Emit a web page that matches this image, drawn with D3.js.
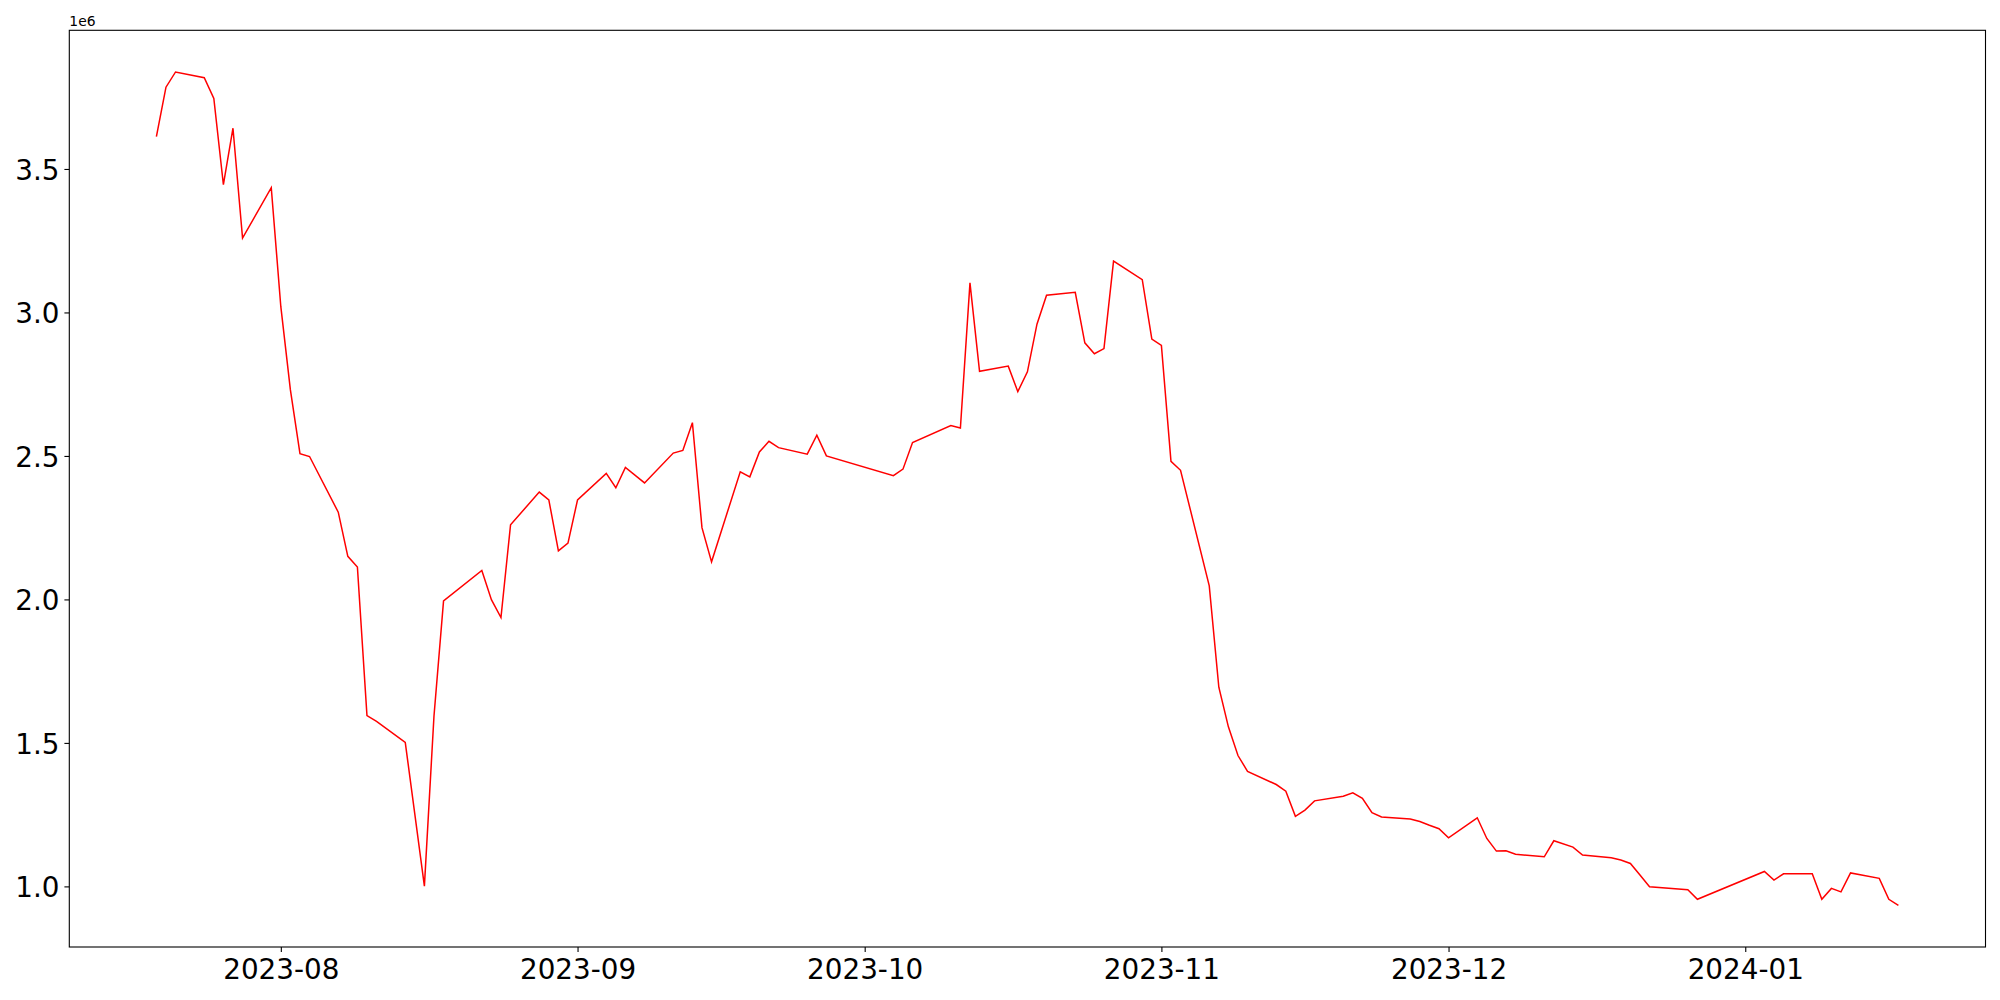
<!DOCTYPE html>
<html>
<head>
<meta charset="utf-8">
<script src="https://cdn.jsdelivr.net/npm/d3@7"></script>
<style>
  html, body { margin: 0; padding: 0; background: #fff; }
  svg { display: block; }
  text { font-family: "DejaVu Sans", sans-serif; fill: #000; }
</style>
</head>
<body>
<svg id="chart" width="2000" height="1000"></svg>
<script>
// ---- data ----
const dates = [
  "2023-07-19","2023-07-20","2023-07-21","2023-07-24","2023-07-25","2023-07-26","2023-07-27","2023-07-28","2023-07-31",
  "2023-08-01","2023-08-02","2023-08-03","2023-08-04","2023-08-07","2023-08-08","2023-08-09","2023-08-10","2023-08-11",
  "2023-08-14","2023-08-16","2023-08-17","2023-08-18","2023-08-22","2023-08-23","2023-08-24","2023-08-25",
  "2023-08-28","2023-08-29","2023-08-30","2023-08-31",
  "2023-09-01","2023-09-04","2023-09-05","2023-09-06","2023-09-08","2023-09-11","2023-09-12","2023-09-13","2023-09-14",
  "2023-09-15","2023-09-18","2023-09-19","2023-09-20","2023-09-21","2023-09-22","2023-09-25","2023-09-26","2023-09-27",
  "2023-10-04","2023-10-05","2023-10-06","2023-10-10","2023-10-11","2023-10-12","2023-10-13","2023-10-16","2023-10-17",
  "2023-10-18","2023-10-19","2023-10-20","2023-10-23","2023-10-24","2023-10-25","2023-10-26","2023-10-27","2023-10-30","2023-10-31",
  "2023-11-01","2023-11-02","2023-11-03","2023-11-06","2023-11-07","2023-11-08","2023-11-09","2023-11-10","2023-11-13",
  "2023-11-14","2023-11-15","2023-11-16","2023-11-17","2023-11-20","2023-11-21","2023-11-22","2023-11-23","2023-11-24",
  "2023-11-27","2023-11-28","2023-11-29","2023-11-30",
  "2023-12-01","2023-12-04","2023-12-05","2023-12-06","2023-12-07","2023-12-08","2023-12-11","2023-12-12","2023-12-14",
  "2023-12-15","2023-12-18","2023-12-19","2023-12-20","2023-12-21","2023-12-22","2023-12-26","2023-12-27",
  "2024-01-03","2024-01-04","2024-01-05","2024-01-08","2024-01-09","2024-01-10","2024-01-11","2024-01-12",
  "2024-01-15","2024-01-16","2024-01-17"
];
const values = [
  3613000,3785000,3838000,3818000,3746000,3445000,3642000,3259000,3435000,
  3020000,2730000,2508000,2498000,2304000,2150000,2113000,1595000,1575000,
  1502000,1001000,1593000,1995000,2101000,1999000,1937000,2260000,
  2374000,2347000,2169000,2196000,
  2347000,2439000,2389000,2460000,2406000,2510000,2519000,2616000,2250000,
  2131000,2445000,2427000,2514000,2551000,2529000,2506000,2572000,2500000,
  2431000,2454000,2547000,2606000,2597000,3103000,2795000,2813000,2724000,
  2793000,2959000,3060000,3070000,2894000,2856000,2874000,3179000,3114000,2907000,
  2885000,2481000,2450000,2047000,1694000,1556000,1456000,1401000,1355000,
  1332000,1244000,1266000,1298000,1314000,1326000,1307000,1257000,1242000,
  1235000,1226000,1213000,1201000,
  1169000,1239000,1167000,1123000,1124000,1112000,1103000,1159000,1137000,
  1109000,1100000,1092000,1080000,1040000,999000,988000,955000,
  1052000,1022000,1044000,1044000,955000,993000,981000,1047000,
  1028000,955000,934000
];
const xTickValues = ["2023-08-01","2023-09-01","2023-10-01","2023-11-01","2023-12-01","2024-01-01"];
const xTickLabels = ["2023-08","2023-09","2023-10","2023-11","2023-12","2024-01"];
const yTickValues = [1000000,1500000,2000000,2500000,3000000,3500000];
const yTickLabels = ["1.0","1.5","2.0","2.5","3.0","3.5"];
const offsetLabel = "1e6";

// ---- layout ----
const plot = { left: 69.3, right: 1985.5, top: 30.3, bottom: 947 };
const parse = d3.utcParse("%Y-%m-%d");
const data = dates.map((d, i) => ({ date: parse(d), value: values[i] }));

const xExt = d3.extent(data, d => d.date.getTime());
const xPad = (xExt[1] - xExt[0]) * 0.05;
const x = d3.scaleUtc()
  .domain([new Date(xExt[0] - xPad), new Date(xExt[1] + xPad)])
  .range([plot.left, plot.right]);

const yExt = d3.extent(values);
const yPad = (yExt[1] - yExt[0]) * 0.05;
const y = d3.scaleLinear()
  .domain([yExt[0] - yPad, yExt[1] + yPad])
  .range([plot.bottom, plot.top]);

const svg = d3.select("#chart");

// line
const line = d3.line().x(d => x(d.date)).y(d => y(d.value));
svg.append("path")
  .datum(data)
  .attr("d", line)
  .attr("fill", "none")
  .attr("stroke", "#ff0000")
  .attr("stroke-width", 1.5)
  .attr("stroke-linejoin", "miter");

// frame
svg.append("rect")
  .attr("x", plot.left).attr("y", plot.top)
  .attr("width", plot.right - plot.left).attr("height", plot.bottom - plot.top)
  .attr("fill", "none").attr("stroke", "#000").attr("stroke-width", 1.1);

// x axis
const xAxis = d3.axisBottom(x)
  .tickValues(xTickValues.map(parse))
  .tickFormat((d, i) => xTickLabels[i])
  .tickSize(4.9)
  .tickPadding(4.9);
const gx = svg.append("g").attr("transform", `translate(0,${plot.bottom})`).call(xAxis);
gx.select(".domain").remove();
gx.selectAll(".tick line").attr("stroke", "#000").attr("stroke-width", 1.1);
gx.selectAll(".tick text")
  .attr("font-size", "27.8px")
  .attr("font-family", "DejaVu Sans")
  .attr("dy", null)
  .attr("y", 32)
  .attr("fill", "#000");

// y axis
const yAxis = d3.axisLeft(y)
  .tickValues(yTickValues)
  .tickFormat((d, i) => yTickLabels[i])
  .tickSize(4.9)
  .tickPadding(4.9);
const gy = svg.append("g").attr("transform", `translate(${plot.left},0)`).call(yAxis);
gy.select(".domain").remove();
gy.selectAll(".tick line").attr("stroke", "#000").attr("stroke-width", 1.1);
gy.selectAll(".tick text")
  .attr("font-size", "27.8px")
  .attr("font-family", "DejaVu Sans")
  .attr("dy", null)
  .attr("y", 10.5)
  .attr("fill", "#000");

// offset text
svg.append("text")
  .attr("x", plot.left)
  .attr("y", 26)
  .attr("font-size", "13.9px")
  .text(offsetLabel);
</script>
</body>
</html>
